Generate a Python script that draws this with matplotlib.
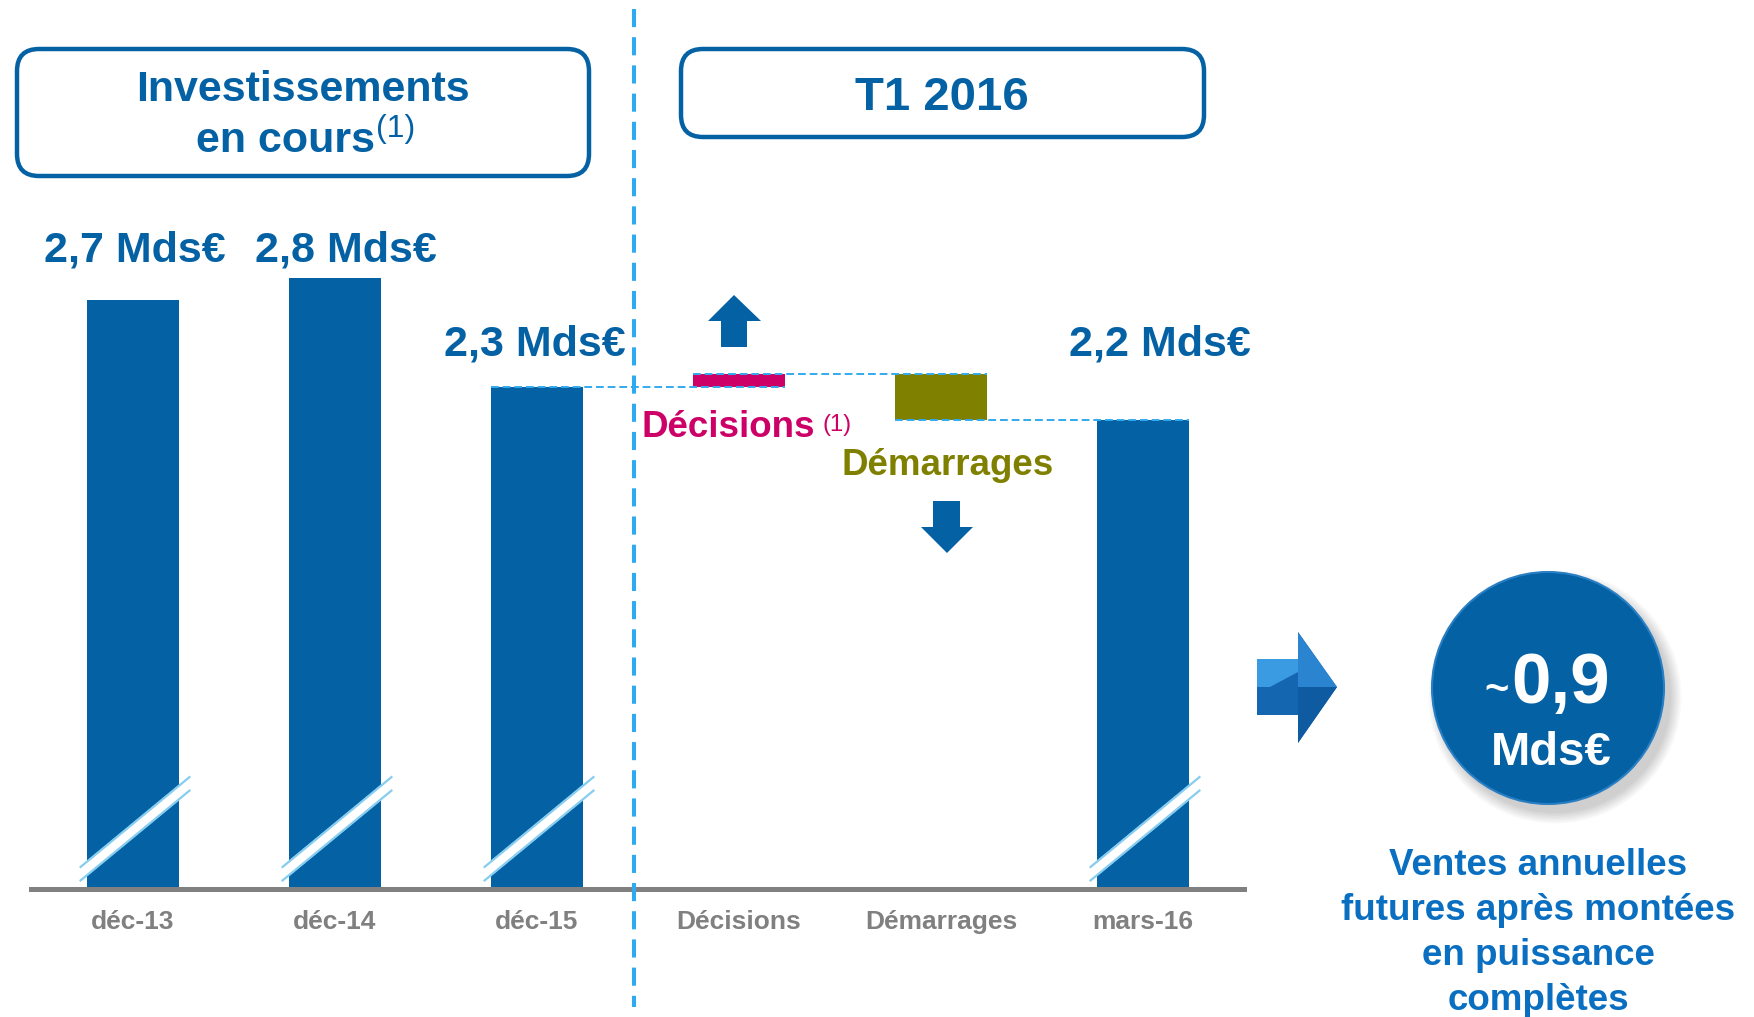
import matplotlib
matplotlib.use('Agg')
import matplotlib.pyplot as plt
from matplotlib.patches import FancyBboxPatch, Circle, Polygon

plt.rcParams['font.family'] = ['Liberation Sans', 'DejaVu Sans']

# Données (Mds€)
periodes = ['déc-13', 'déc-14', 'déc-15', 'Décisions', 'Démarrages', 'mars-16']
totaux_pos = [0, 1, 2, 5]
totaux = [2.7, 2.8, 2.3, 2.15]
totaux_labels = ['2,7 Mds€', '2,8 Mds€', '2,3 Mds€', '2,2 Mds€']
decisions = 0.06
demarrages = -0.21
ventes_futures = '0,9'

BLEU = '#0461A4'
BLEU_TXT = '#0A6FC0'
ROSE = '#CC0066'
OLIVE = '#808000'
GRIS = '#808080'
CYAN = '#33AAEE'

W, H = 1754, 1017
fig = plt.figure(figsize=(W / 100, H / 100), dpi=100)

# axe principal : 218 px par Md€, base à y=888.5 px
ax = fig.add_axes([31 / W, (H - 888.5) / H, 1213 / W, 648.5 / H])
ax.set_xlim(-0.505, 5.5)
ax.set_ylim(0, 648.5 / 218)
ax.set_facecolor('none')
for s in ['top', 'right', 'left']:
    ax.spines[s].set_visible(False)
ax.spines['bottom'].set_color(GRIS)
ax.spines['bottom'].set_linewidth(3.6)
ax.set_yticks([])
ax.set_xticks(range(len(periodes)))
ax.set_xticklabels(periodes, fontsize=19, fontweight='bold', color=GRIS)
ax.tick_params(axis='x', length=0, pad=15.5)

bw = 0.455
ax.bar(totaux_pos, totaux, width=bw, color=BLEU, zorder=2)
depart = totaux[2]
apres_dec = depart + decisions
ax.bar(3, decisions, bottom=depart, width=bw, color=ROSE, zorder=2)
ax.bar(4, demarrages, bottom=apres_dec, width=bw, color=OLIVE, zorder=2)

# lignes de liaison
tirets = (0, (4, 2))
ax.plot([2 - bw / 2, 3 + bw / 2], [depart, depart], ls=tirets, lw=1.4, color=CYAN, zorder=3)
ax.plot([3 - bw / 2, 4 + bw / 2], [apres_dec, apres_dec], ls=tirets, lw=1.4, color=CYAN, zorder=3)
ax.plot([4 - bw / 2, 5 + bw / 2], [apres_dec + demarrages] * 2, ls=tirets, lw=1.4, color=CYAN, zorder=3)

# coupures d'axe sur les barres
for p in totaux_pos:
    x0, x1 = p - bw / 2 - 0.032, p + bw / 2 + 0.052
    y0, y1, t = 0.099, 0.511, 0.062
    ax.fill([x0, x1, x1, x0], [y0, y1, y1 - t, y0 - t], color='white', zorder=3)
    ax.plot([x0, x1], [y0, y1], color='#86CDF0', lw=1.6, zorder=4)
    ax.plot([x0, x1], [y0 - t, y1 - t], color='#86CDF0', lw=1.6, zorder=4)

# calque en pixels pour les annotations
ov = fig.add_axes([0, 0, 1, 1], zorder=5)
ov.set_xlim(0, W)
ov.set_ylim(H, 0)
ov.axis('off')
ov.patch.set_visible(False)

ov.plot([634, 634], [9, 1007], color='#2EAAF2', lw=2.9, ls=(0, (4.5, 2.5)))

for (x0, y0, x1, y1) in [(15, 47, 591, 178), (679, 47, 1206, 139)]:
    ov.add_patch(FancyBboxPatch((x0 + 2, y0 + 2), x1 - x0 - 4, y1 - y0 - 4,
                                boxstyle='round,pad=0,rounding_size=22',
                                fc='white', ec=BLEU, lw=3.2))

ov.text(303, 101, 'Investissements', fontsize=31, fontweight='bold', color=BLEU,
        ha='center', va='baseline')
ov.text(286, 152, 'en cours', fontsize=31, fontweight='bold', color=BLEU,
        ha='center', va='baseline')
ov.text(376, 137, '(1)', fontsize=23, color=BLEU, ha='left', va='baseline')
ov.text(942, 110, 'T1 2016', fontsize=34, fontweight='bold', color=BLEU,
        ha='center', va='baseline')

# étiquettes de valeur
for (x, y), lab in zip([(135, 262), (346, 262), (535, 355), (1160, 355)], totaux_labels):
    ov.text(x, y, lab, fontsize=31, fontweight='bold', color=BLEU, ha='center', va='baseline')

ov.text(641, 437, 'Décisions', fontsize=26.5, fontweight='bold', color=ROSE, ha='left', va='baseline')
ov.text(822, 431, '(1)', fontsize=17, color=ROSE, ha='left', va='baseline')
ov.text(948, 475, 'Démarrages', fontsize=26.5, fontweight='bold', color=OLIVE, ha='center', va='baseline')

# flèches haut / bas
ov.add_patch(Polygon([(721, 347), (721, 321), (708, 321), (734, 295), (761, 321), (747, 321), (747, 347)],
                     closed=True, fc=BLEU, ec='none'))
ov.add_patch(Polygon([(933, 501), (960, 501), (960, 527), (973, 527), (947, 553), (921, 527), (933, 527)],
                     closed=True, fc=BLEU, ec='none'))

# grande flèche droite
ov.add_patch(Polygon([(1257, 659), (1298, 659), (1298, 632), (1337, 687), (1298, 743), (1298, 715), (1257, 715)],
                     closed=True, fc='#1466B0', ec='none'))
ov.add_patch(Polygon([(1257, 659), (1298, 659), (1298, 672), (1270, 687), (1257, 687)], closed=True,
                     fc='#3A9BE3', ec='none'))
ov.add_patch(Polygon([(1298, 632), (1337, 687), (1298, 687)], closed=True, fc='#2A84D0', ec='none'))
ov.add_patch(Polygon([(1298, 687), (1337, 687), (1298, 743)], closed=True, fc='#0F5BA2', ec='none'))

# pastille
for k in range(8):
    ov.add_patch(Circle((1555, 697), 116 + k * 1.5, fc='black', alpha=0.025, ec='none'))
ov.add_patch(Circle((1548, 688), 116, fc=BLEU, ec='#2A7FC4', lw=1.5))
ov.text(1497, 702, '~', fontsize=30, fontweight='bold', color='white', ha='center', va='baseline')
ov.text(1561, 703, ventes_futures, fontsize=51, fontweight='bold', color='white', ha='center', va='baseline')
ov.text(1551, 765, 'Mds€', fontsize=34, fontweight='bold', color='white', ha='center', va='baseline')

lignes = ['Ventes annuelles', 'futures après montées', 'en puissance', 'complètes']
for i, l in enumerate(lignes):
    ov.text(1538, 875 + 45 * i, l, fontsize=26.5, fontweight='bold', color=BLEU_TXT,
            ha='center', va='baseline')

fig.savefig('out.png', dpi=100)
